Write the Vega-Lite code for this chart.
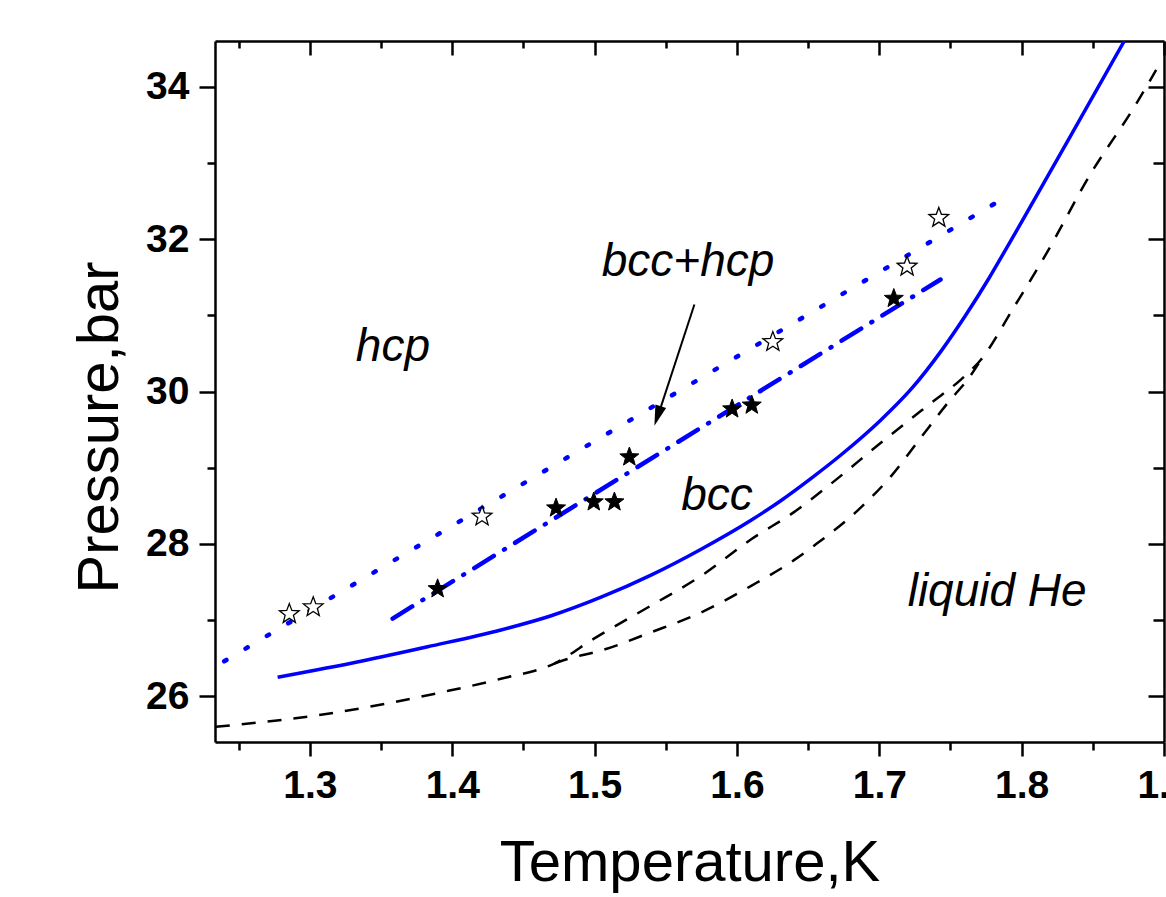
{
  "$schema": "https://vega.github.io/schema/vega-lite/v6.json",
  "width": 949,
  "height": 701,
  "autosize": {"type": "none"},
  "padding": {"left": 215, "top": 41, "right": 2, "bottom": 155},
  "background": "white",
  "config": {
    "view": {"stroke": null},
    "axis": {
      "grid": false,
      "domainColor": "black",
      "domainWidth": 2.5,
      "tickColor": "black",
      "tickWidth": 2.5,
      "labelFont": "Liberation Sans",
      "labelFontWeight": "bold",
      "labelFontSize": 39,
      "labelColor": "black",
      "labelOverlap": false,
      "labelFlush": false,
      "titleFont": "Liberation Sans",
      "titleFontWeight": "normal",
      "titleFontSize": 58,
      "titleColor": "black"
    }
  },
  "datasets": {
    "solid": [
      {"T": 1.2773, "P": 26.25}, {"T": 1.3358, "P": 26.46}, {"T": 1.3827, "P": 26.65},
      {"T": 1.4342, "P": 26.87}, {"T": 1.47, "P": 27.06}, {"T": 1.5045, "P": 27.30},
      {"T": 1.5396, "P": 27.59}, {"T": 1.5748, "P": 27.93}, {"T": 1.6099, "P": 28.31},
      {"T": 1.631, "P": 28.57}, {"T": 1.6521, "P": 28.86}, {"T": 1.6732, "P": 29.17},
      {"T": 1.7013, "P": 29.63}, {"T": 1.7223, "P": 30.03}, {"T": 1.7434, "P": 30.53},
      {"T": 1.761, "P": 31.01}, {"T": 1.7765, "P": 31.47}, {"T": 1.7856, "P": 31.76},
      {"T": 1.8327, "P": 33.30}, {"T": 1.8721, "P": 34.60}
    ],
    "dotted": [{"T": 1.2398, "P": 26.46}, {"T": 1.7868, "P": 32.53}],
    "dashdot": [{"T": 1.3581, "P": 27.02}, {"T": 1.743, "P": 31.47}],
    "dash1": [
      {"T": 1.2339, "P": 25.60}, {"T": 1.3054, "P": 25.75}, {"T": 1.3944, "P": 26.06},
      {"T": 1.4342, "P": 26.23}, {"T": 1.4717, "P": 26.43}, {"T": 1.4998, "P": 26.76},
      {"T": 1.5396, "P": 27.19}, {"T": 1.5748, "P": 27.58}, {"T": 1.61, "P": 28.06},
      {"T": 1.6403, "P": 28.42}, {"T": 1.6661, "P": 28.79}, {"T": 1.7013, "P": 29.33},
      {"T": 1.7364, "P": 29.85}, {"T": 1.7575, "P": 30.16}, {"T": 1.7715, "P": 30.42},
      {"T": 1.795, "P": 31.12}, {"T": 1.8161, "P": 31.77}, {"T": 1.8489, "P": 32.87},
      {"T": 1.8793, "P": 33.74}, {"T": 1.8945, "P": 34.22}
    ],
    "dash2": [
      {"T": 1.4717, "P": 26.43}, {"T": 1.4811, "P": 26.49}, {"T": 1.5045, "P": 26.60},
      {"T": 1.5396, "P": 26.84}, {"T": 1.5748, "P": 27.10}, {"T": 1.61, "P": 27.45},
      {"T": 1.6403, "P": 27.79}, {"T": 1.6544, "P": 27.98}, {"T": 1.6849, "P": 28.44},
      {"T": 1.7083, "P": 28.89}, {"T": 1.7294, "P": 29.40}, {"T": 1.7481, "P": 29.85},
      {"T": 1.7645, "P": 30.22}, {"T": 1.7715, "P": 30.42}
    ],
    "open": [
      {"T": 1.2855, "P": 27.08}, {"T": 1.3023, "P": 27.17}, {"T": 1.4209, "P": 28.36},
      {"T": 1.6252, "P": 30.65}, {"T": 1.7195, "P": 31.64}, {"T": 1.7418, "P": 32.28}
    ],
    "filled": [
      {"T": 1.3897, "P": 27.41}, {"T": 1.4729, "P": 28.47}, {"T": 1.4994, "P": 28.55},
      {"T": 1.5139, "P": 28.55}, {"T": 1.5244, "P": 29.14}, {"T": 1.5966, "P": 29.77},
      {"T": 1.6104, "P": 29.82}, {"T": 1.7102, "P": 31.22}
    ],
    "labels": [
      {"T": 1.3583, "P": 30.40, "label": "hcp"},
      {"T": 1.5656, "P": 31.51, "label": "bcc+hcp"},
      {"T": 1.586, "P": 28.45, "label": "bcc"},
      {"T": 1.7828, "P": 27.19, "label": "liquid He"}
    ],
    "arrow": [{"T": 1.5701, "P": 31.142, "T2": 1.5443, "P2": 29.67}],
    "arrowhead": [{"T": 1.542, "P": 29.55}]
  },
  "layer": [
    {
      "data": {"name": "dotted"},
      "mark": {"type": "line", "color": "#0000ff", "strokeWidth": 4.5, "strokeDash": [2.5, 22.3], "strokeCap": "round", "clip": true},
      "encoding": {
        "x": {"field": "T", "type": "quantitative", "scale": {"domain": [1.2333, 1.9], "nice": false, "zero": false},
          "axis": {
            "orient": "bottom",
            "values": [1.25, 1.3, 1.35, 1.4, 1.45, 1.5, 1.55, 1.6, 1.65, 1.7, 1.75, 1.8, 1.85, 1.9],
            "labelExpr": "abs(datum.value*10-round(datum.value*10))<0.001 ? format(datum.value,'.1f') : ''",
            "tickSize": {"condition": {"test": "abs(datum.value*10-round(datum.value*10))<0.001", "value": 14}, "value": 8},
            "labelPadding": 10,
            "title": "Temperature,K",
            "titleBaseline": "alphabetic",
            "titleY": 138
          }
        },
        "y": {"field": "P", "type": "quantitative", "scale": {"domain": [25.4, 34.6], "nice": false, "zero": false},
          "axis": {
            "orient": "left",
            "values": [26, 27, 28, 29, 30, 31, 32, 33, 34],
            "labelExpr": "datum.value % 2 == 0 ? format(datum.value,'d') : ''",
            "tickSize": {"condition": {"test": "datum.value % 2 == 0", "value": 16}, "value": 8},
            "labelPadding": 10,
            "title": "Pressure,bar",
            "titleBaseline": "alphabetic",
            "titleX": -98,
            "titleY": 386
          }
        }
      }
    },
    {
      "data": {"name": "dashdot"},
      "mark": {"type": "line", "color": "#0000ff", "strokeWidth": 4.5, "strokeDash": [23, 12, 1, 12], "strokeCap": "round", "clip": true},
      "encoding": {
        "x": {"field": "T", "type": "quantitative", "scale": {"domain": [1.2333, 1.9], "nice": false, "zero": false},
          "axis": {
            "orient": "top",
            "values": [1.25, 1.3, 1.35, 1.4, 1.45, 1.5, 1.55, 1.6, 1.65, 1.7, 1.75, 1.8, 1.85, 1.9],
            "labels": false,
            "title": null,
            "tickSize": {"condition": {"test": "abs(datum.value*10-round(datum.value*10))<0.001", "value": -14}, "value": -7}
          }
        },
        "y": {"field": "P", "type": "quantitative", "scale": {"domain": [25.4, 34.6], "nice": false, "zero": false},
          "axis": {
            "orient": "right",
            "values": [26, 27, 28, 29, 30, 31, 32, 33, 34],
            "labels": false,
            "title": null,
            "tickSize": {"condition": {"test": "datum.value % 2 == 0", "value": -16}, "value": -11}
          }
        }
      }
    },
    {
      "data": {"name": "solid"},
      "mark": {"type": "line", "color": "#0000ff", "strokeWidth": 3.5, "interpolate": "monotone", "clip": true},
      "encoding": {
        "x": {"field": "T", "type": "quantitative", "scale": {"domain": [1.2333, 1.9], "nice": false, "zero": false}, "axis": null},
        "y": {"field": "P", "type": "quantitative", "scale": {"domain": [25.4, 34.6], "nice": false, "zero": false}, "axis": null}
      }
    },
    {
      "data": {"name": "dash1"},
      "mark": {"type": "line", "color": "black", "strokeWidth": 2.5, "strokeDash": [14, 12], "interpolate": "monotone", "clip": true},
      "encoding": {
        "x": {"field": "T", "type": "quantitative", "scale": {"domain": [1.2333, 1.9], "nice": false, "zero": false}, "axis": null},
        "y": {"field": "P", "type": "quantitative", "scale": {"domain": [25.4, 34.6], "nice": false, "zero": false}, "axis": null}
      }
    },
    {
      "data": {"name": "dash2"},
      "mark": {"type": "line", "color": "black", "strokeWidth": 2.5, "strokeDash": [14, 12], "interpolate": "monotone", "clip": true},
      "encoding": {
        "x": {"field": "T", "type": "quantitative", "scale": {"domain": [1.2333, 1.9], "nice": false, "zero": false}, "axis": null},
        "y": {"field": "P", "type": "quantitative", "scale": {"domain": [25.4, 34.6], "nice": false, "zero": false}, "axis": null}
      }
    },
    {
      "data": {"name": "open"},
      "mark": {"type": "point", "shape": "M0,-1 L0.2469,-0.3398 L0.951,-0.309 L0.3994,0.1298 L0.588,0.809 L0,0.42 L-0.588,0.809 L-0.3994,0.1298 L-0.951,-0.309 L-0.2469,-0.3398 Z", "size": 430, "filled": true, "fill": "white", "stroke": "black", "strokeWidth": 1.3, "opacity": 1},
      "encoding": {
        "x": {"field": "T", "type": "quantitative", "scale": {"domain": [1.2333, 1.9], "nice": false, "zero": false}, "axis": null},
        "y": {"field": "P", "type": "quantitative", "scale": {"domain": [25.4, 34.6], "nice": false, "zero": false}, "axis": null}
      }
    },
    {
      "data": {"name": "filled"},
      "mark": {"type": "point", "shape": "M0,-1 L0.2469,-0.3398 L0.951,-0.309 L0.3994,0.1298 L0.588,0.809 L0,0.42 L-0.588,0.809 L-0.3994,0.1298 L-0.951,-0.309 L-0.2469,-0.3398 Z", "size": 400, "filled": true, "fill": "black", "stroke": "black", "strokeWidth": 1, "opacity": 1},
      "encoding": {
        "x": {"field": "T", "type": "quantitative", "scale": {"domain": [1.2333, 1.9], "nice": false, "zero": false}, "axis": null},
        "y": {"field": "P", "type": "quantitative", "scale": {"domain": [25.4, 34.6], "nice": false, "zero": false}, "axis": null}
      }
    },
    {
      "data": {"name": "arrow"},
      "mark": {"type": "rule", "color": "black", "strokeWidth": 2},
      "encoding": {
        "x": {"field": "T", "type": "quantitative", "scale": {"domain": [1.2333, 1.9], "nice": false, "zero": false}, "axis": null},
        "y": {"field": "P", "type": "quantitative", "scale": {"domain": [25.4, 34.6], "nice": false, "zero": false}, "axis": null},
        "x2": {"field": "T2"},
        "y2": {"field": "P2"}
      }
    },
    {
      "data": {"name": "arrowhead"},
      "mark": {"type": "point", "shape": "M0,0 L0.55,2 L-0.55,2 Z", "size": 420, "filled": true, "fill": "black", "strokeWidth": 0, "opacity": 1, "angle": 198},
      "encoding": {
        "x": {"field": "T", "type": "quantitative", "scale": {"domain": [1.2333, 1.9], "nice": false, "zero": false}, "axis": null},
        "y": {"field": "P", "type": "quantitative", "scale": {"domain": [25.4, 34.6], "nice": false, "zero": false}, "axis": null}
      }
    },
    {
      "data": {"name": "labels"},
      "mark": {"type": "text", "font": "Liberation Sans", "fontStyle": "italic", "fontSize": 46, "align": "center", "baseline": "alphabetic", "color": "black"},
      "encoding": {
        "x": {"field": "T", "type": "quantitative", "scale": {"domain": [1.2333, 1.9], "nice": false, "zero": false}, "axis": null},
        "y": {"field": "P", "type": "quantitative", "scale": {"domain": [25.4, 34.6], "nice": false, "zero": false}, "axis": null},
        "text": {"field": "label"}
      }
    }
  ],
  "resolve": {"axis": {"x": "independent", "y": "independent"}}
}
